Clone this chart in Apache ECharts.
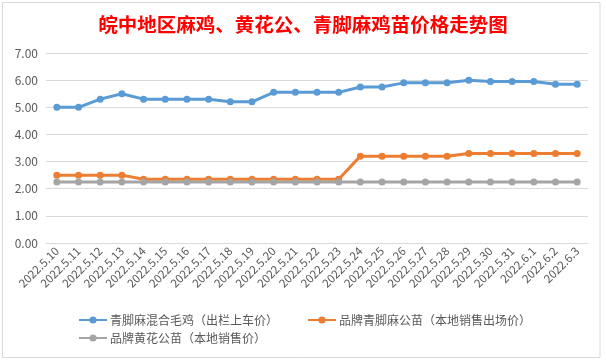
<!DOCTYPE html>
<html>
<head>
<meta charset="utf-8">
<script src="https://cdn.jsdelivr.net/npm/echarts@6/dist/echarts.min.js"></script>
<style>html,body{margin:0;padding:0;background:#fff}#c{width:606px;height:361px}</style>
</head>
<body>
<div id="c"></div>
<script>
const titleText = '皖中地区麻鸡、黄花公、青脚麻鸡苗价格走势图';
const categories = ['2022.5.10','2022.5.11','2022.5.12','2022.5.13','2022.5.14','2022.5.15','2022.5.16','2022.5.17','2022.5.18','2022.5.19','2022.5.20','2022.5.21','2022.5.22','2022.5.23','2022.5.24','2022.5.25','2022.5.26','2022.5.27','2022.5.28','2022.5.29','2022.5.30','2022.5.31','2022.6.1','2022.6.2','2022.6.3'];
const seriesNames = ['青脚麻混合毛鸡（出栏上车价）','品牌青脚麻公苗（本地销售出场价）','品牌黄花公苗（本地销售价）'];
const mixedChicken = [5.0,5.0,5.3,5.5,5.3,5.3,5.3,5.3,5.2,5.2,5.55,5.55,5.55,5.55,5.75,5.75,5.9,5.9,5.9,6.0,5.95,5.95,5.95,5.85,5.85];
const qingjiaoChick = [2.5,2.5,2.5,2.5,2.35,2.35,2.35,2.35,2.35,2.35,2.35,2.35,2.35,2.35,3.2,3.2,3.2,3.2,3.2,3.3,3.3,3.3,3.3,3.3,3.3];
const huanghuaChick = [2.25,2.25,2.25,2.25,2.25,2.25,2.25,2.25,2.25,2.25,2.25,2.25,2.25,2.25,2.25,2.25,2.25,2.25,2.25,2.25,2.25,2.25,2.25,2.25,2.25];
const yTicks = {min:0, max:7, interval:1};

const colors = ['#5B9BD5','#ED7D31','#A5A5A5'];
const font = '"Noto Sans CJK SC", "Microsoft YaHei", sans-serif';
const chart = echarts.init(document.getElementById('c'));
function mk(name, data, color){
  return {name, type:'line', data, color, symbol:'circle', symbolSize:7,
    lineStyle:{width:3, color}, itemStyle:{color}, animation:false};
}
const legendBase = {orient:'horizontal', padding:0, itemWidth:28, itemHeight:9, itemGap:10,
  textStyle:{fontSize:12, color:'#595959', fontFamily:font, padding:[0,0,0,-2]}};
chart.setOption({
  backgroundColor:'#fff',
  animation:false,
  title:{text:titleText, left:'center', top:10,
    textStyle:{color:'#FF0000', fontSize:19.5, fontWeight:'bold', fontFamily:font}},
  grid:{left:46, right:18, top:53, bottom:118},
  xAxis:{type:'category', data:categories, boundaryGap:true,
    axisLine:{lineStyle:{color:'#D9D9D9'}}, axisTick:{show:false},
    axisLabel:{rotate:45, interval:0, fontSize:11.5, color:'#595959', fontFamily:font, margin:6}},
  yAxis:{type:'value', min:yTicks.min, max:yTicks.max, interval:yTicks.interval,
    axisLabel:{formatter:v=>v.toFixed(2), fontSize:12, color:'#595959', fontFamily:font, margin:8},
    splitLine:{lineStyle:{color:'#D9D9D9'}}, axisLine:{show:false}},
  legend:[
    Object.assign({}, legendBase, {data:[seriesNames[0]], left:78, top:314}),
    Object.assign({}, legendBase, {data:[seriesNames[1]], left:307, top:314}),
    Object.assign({}, legendBase, {data:[seriesNames[2]], left:78, top:332})
  ],
  graphic:[{type:'rect', shape:{x:2.5, y:2.5, width:597.5, height:355}, style:{fill:'none', stroke:'#D9D9D9', lineWidth:1}, silent:true}],
  series:[mk(seriesNames[0], mixedChicken, colors[0]), mk(seriesNames[1], qingjiaoChick, colors[1]), mk(seriesNames[2], huanghuaChick, colors[2])]
});
</script>
</body>
</html>
